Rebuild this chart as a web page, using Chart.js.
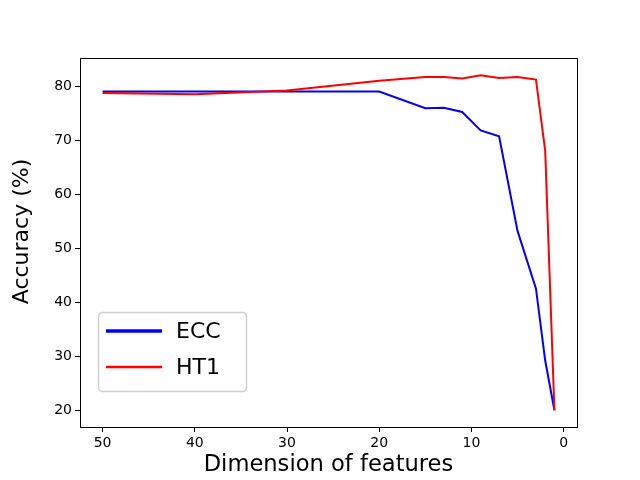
<!DOCTYPE html>
<html>
<head>
<meta charset="utf-8">
<script src="https://cdn.jsdelivr.net/npm/chart.js@4"></script>
<style>
  html, body { margin: 0; padding: 0; background: #fff; }
  #wrap { width: 640px; height: 480px; }
</style>
</head>
<body>
<div id="wrap"><canvas id="chart" width="640" height="480"></canvas></div>
<script>
// values
const dims = [50, 40, 30, 20, 15, 13, 11, 9, 7, 5, 3, 2, 1];
const eccAcc = [79.0, 79.0, 79.0, 79.0, 75.9, 76.0, 75.2, 71.8, 70.7, 53.2, 42.5, 29.2, 20.0];
const ht1Acc = [78.7, 78.5, 79.2, 81.0, 81.7, 81.7, 81.4, 82.0, 81.5, 81.7, 81.2, 68.0, 20.0];
const xTicks = [0, 10, 20, 30, 40, 50];
const yTicks = [20, 30, 40, 50, 60, 70, 80];

const FONT = 'DejaVu Sans';
const yTitle = 'Accuracy (%)';

const toPoints = (xs, ys) => xs.map((x, i) => ({ x: x, y: ys[i] }));

// matplotlib-like legend box inside the axes (lower left)
const boxLegend = {
    id: 'boxLegend',
    afterDraw(chart) {
        const ctx = chart.ctx;
        const area = chart.chartArea;
        const x0 = area.left + 18, y0 = area.bottom - 115, w = 148, h = 79, r = 4;
        ctx.save();
        ctx.beginPath();
        ctx.roundRect(x0 + 0.5, y0 + 0.5, w, h, r);
        ctx.fillStyle = 'rgba(255,255,255,0.8)';
        ctx.fill();
        ctx.strokeStyle = '#d0d0d0';
        ctx.lineWidth = 1.5;
        ctx.stroke();

        const handleWidths = [3.5, 2.5];
        ctx.font = '22px "' + FONT + '"';
        ctx.textBaseline = 'middle';
        ctx.fillStyle = '#000';
        chart.data.datasets.forEach((ds, i) => {
            const y = y0 + 19 + i * 36;
            ctx.beginPath();
            ctx.moveTo(x0 + 8, y);
            ctx.lineTo(x0 + 64, y);
            ctx.strokeStyle = ds.borderColor;
            ctx.lineWidth = handleWidths[i];
            ctx.stroke();
            ctx.fillText(ds.label, x0 + 78, y + 1);
        });
        ctx.restore();
    }
};

// full black frame around the plot area, plus the y axis label
const axesFrame = {
    id: 'axesFrame',
    afterDatasetsDraw(chart) {
        const a = chart.chartArea;
        const ctx = chart.ctx;
        ctx.save();
        ctx.strokeStyle = '#000';
        ctx.lineWidth = 1;
        ctx.strokeRect(Math.round(a.left) + 0.5, Math.round(a.top) + 0.5,
            Math.round(a.right - a.left), Math.round(a.bottom - a.top));

        // y label, a bit above the centre of the axes like matplotlib puts it
        ctx.translate(22, (a.top + a.bottom) / 2 - 11);
        ctx.rotate(-Math.PI / 2);
        ctx.font = '22px "' + FONT + '"';
        ctx.fillStyle = '#000';
        ctx.textAlign = 'center';
        ctx.textBaseline = 'middle';
        ctx.fillText(yTitle, 0, 0);
        ctx.restore();
    }
};

new Chart(document.getElementById('chart'), {
    type: 'line',
    data: {
        datasets: [{
            label: 'ECC',
            data: toPoints(dims, eccAcc),
            borderColor: '#0000ff',
            borderWidth: 2,
            pointRadius: 0,
            tension: 0,
            fill: false,
            order: 1
        }, {
            label: 'HT1',
            data: toPoints(dims, ht1Acc),
            borderColor: '#ff0000',
            borderWidth: 2,
            pointRadius: 0,
            tension: 0,
            fill: false,
            order: 0
        }]
    },
    options: {
        responsive: false,
        devicePixelRatio: 1,
        animation: false,
        layout: { padding: { left: 0, right: 63, top: 58, bottom: 0 } },
        plugins: {
            legend: { display: false },
            tooltip: { enabled: false }
        },
        scales: {
            x: {
                type: 'linear',
                reverse: true,
                min: -1.45,
                max: 52.45,
                afterBuildTicks: (scale) => { scale.ticks = xTicks.map(v => ({ value: v })); },
                afterFit: (scale) => { scale.height = 53; },
                grid: { drawOnChartArea: false, drawTicks: true, tickLength: 5, color: '#000' },
                border: { display: true, color: '#000' },
                ticks: { color: '#000', padding: 3, maxRotation: 0, font: { family: FONT, size: 14 } },
                title: {
                    display: true,
                    text: 'Dimension of features',
                    color: '#000',
                    padding: { top: 0, bottom: 1 },
                    font: { family: FONT, size: 22.6 }
                }
            },
            y: {
                type: 'linear',
                min: 16.9,
                max: 85.2,
                afterBuildTicks: (scale) => { scale.ticks = yTicks.map(v => ({ value: v })); },
                afterFit: (scale) => { scale.width = 80; },
                grid: { drawOnChartArea: false, drawTicks: true, tickLength: 5, color: '#000' },
                border: { display: true, color: '#000' },
                ticks: { color: '#000', padding: 3, font: { family: FONT, size: 14 } },
                title: { display: false }
            }
        }
    },
    plugins: [axesFrame, boxLegend]
});
</script>
</body>
</html>
